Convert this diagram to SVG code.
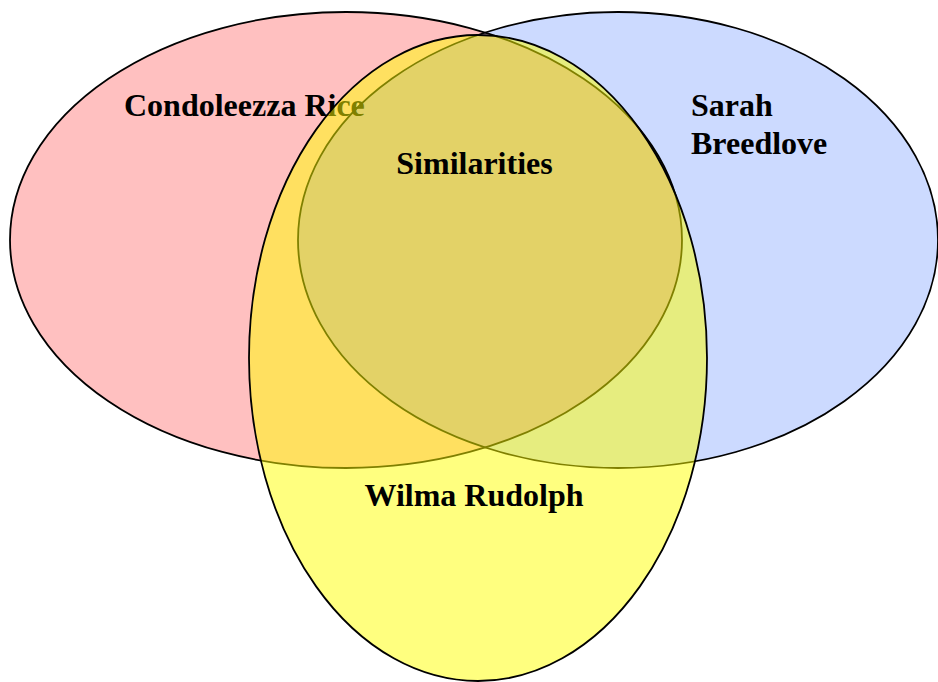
<svg xmlns="http://www.w3.org/2000/svg" width="938" height="682" viewBox="0 0 938 682">
<style>
.lbl{font-family:"Liberation Serif","Times New Roman",serif;font-weight:bold;font-size:32px;fill:#000}
.out{fill:none;stroke:#000;stroke-width:1.8}
</style>
<defs>
<clipPath id="clipPink"><ellipse cx="346" cy="240" rx="336" ry="228"/></clipPath>
</defs>
<rect width="938" height="682" fill="#fff"/>
<g id="condoleezza">
<ellipse cx="346" cy="240" rx="336" ry="228" fill="#FFC0C0"/>
</g>
<g id="sarah">
<ellipse cx="618" cy="240" rx="320" ry="228" fill="#CCDAFF"/>
<ellipse cx="618" cy="240" rx="320" ry="228" fill="#C6A5CE" clip-path="url(#clipPink)"/>
</g>
<g id="outlines">
<ellipse class="out" cx="346" cy="240" rx="336" ry="228"/>
<ellipse class="out" cx="618" cy="240" rx="320" ry="228"/>
</g>
<text class="lbl" x="124" y="116">Condoleezza Rice</text>
<text class="lbl" x="691" y="116">Sarah</text>
<text class="lbl" x="691" y="154">Breedlove</text>
<g id="wilma">
<ellipse cx="478" cy="358" rx="229" ry="323" fill="#FFFF00" fill-opacity="0.5"/>
<ellipse class="out" cx="478" cy="358" rx="229" ry="323"/>
</g>
<g id="labels">
<text class="lbl" x="474.5" y="174" text-anchor="middle">Similarities</text>
<text class="lbl" x="474" y="506" text-anchor="middle">Wilma Rudolph</text>
</g>
<g id="connectors"></g>
</svg>
